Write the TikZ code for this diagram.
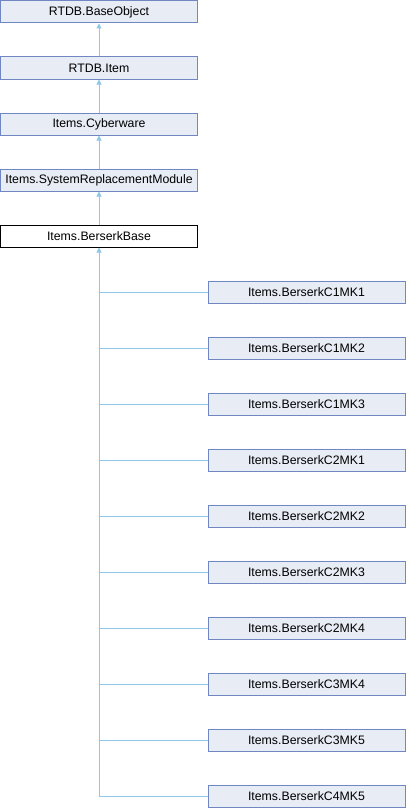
\documentclass[tikz,border=0pt]{standalone}
\usepackage{fontspec}
\setmainfont{Liberation Sans}
\usetikzlibrary{arrows.meta}
\definecolor{boxfill}{HTML}{E8ECF5}
\definecolor{boxdraw}{HTML}{7187C4}
\definecolor{linkc}{HTML}{8EC7E8}
\begin{document}
\begin{tikzpicture}[x=1pt,y=-1pt,
  cls/.style={draw=boxdraw,fill=boxfill,line width=1pt,minimum width=197pt,minimum height=22pt,inner sep=0pt,font=\fontsize{12.3}{14}\selectfont},
  cur/.style={cls,draw=black,fill=white},
  inh/.style={draw=linkc,line width=1pt,-{Triangle[width=5pt,length=5pt]}},
  lnk/.style={draw=linkc,line width=1pt}]
\useasboundingbox (0,0) rectangle (406,808);
\node[cls] (a) at (99,12) {RTDB.BaseObject};
\node[cls] (b) at (99,68) {RTDB.Item};
\node[cls] (c) at (99,124) {Items.Cyberware};
\node[cls] (d) at (99,180) {Items.SystemReplacementModule};
\node[cur] (e) at (99,236) {Items.BerserkBase};
\node[cls] (k1) at (306.5,292) {Items.BerserkC1MK1};
\node[cls] (k2) at (306.5,348) {Items.BerserkC1MK2};
\node[cls] (k3) at (306.5,404) {Items.BerserkC1MK3};
\node[cls] (k4) at (306.5,460) {Items.BerserkC2MK1};
\node[cls] (k5) at (306.5,516) {Items.BerserkC2MK2};
\node[cls] (k6) at (306.5,572) {Items.BerserkC2MK3};
\node[cls] (k7) at (306.5,628) {Items.BerserkC2MK4};
\node[cls] (k8) at (306.5,684) {Items.BerserkC3MK4};
\node[cls] (k9) at (306.5,740) {Items.BerserkC3MK5};
\node[cls] (k10) at (306.5,796) {Items.BerserkC4MK5};
\draw[inh] (b.north) -- (a.south);
\draw[inh] (c.north) -- (b.south);
\draw[inh] (d.north) -- (c.south);
\draw[inh] (e.north) -- (d.south);
\draw[inh] (k10.west) -| (e.south);
\foreach \k in {k1,k2,k3,k4,k5,k6,k7,k8,k9}
  \draw[lnk] (\k.west) -- (\k.west -| e.south);
\end{tikzpicture}
\end{document}
